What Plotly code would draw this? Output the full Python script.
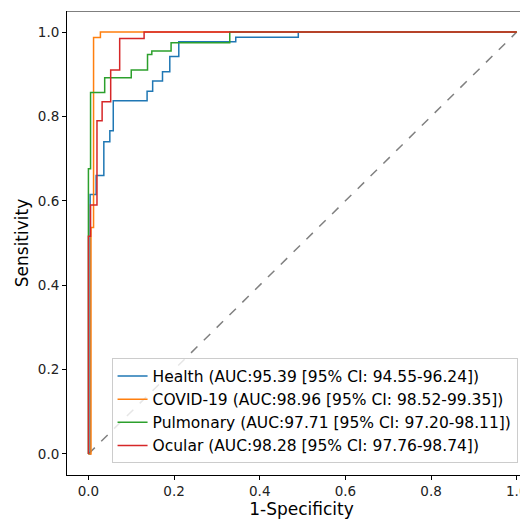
import plotly.graph_objects as go

# ROC step points (fpr, tpr)
health_fpr = [0, 0.004, 0.004, 0.018, 0.018, 0.036, 0.036, 0.05, 0.05, 0.058, 0.058, 0.137, 0.137, 0.15, 0.15, 0.173, 0.173, 0.19, 0.19, 0.211, 0.211, 0.344, 0.344, 0.49, 0.49, 1.0]
health_tpr = [0, 0, 0.615, 0.615, 0.66, 0.66, 0.74, 0.74, 0.766, 0.766, 0.837, 0.837, 0.86, 0.86, 0.884, 0.884, 0.906, 0.906, 0.942, 0.942, 0.977, 0.977, 0.988, 0.988, 1.0, 1.0]
covid_fpr = [0, 0.006, 0.006, 0.012, 0.012, 0.028, 0.028, 1.0]
covid_tpr = [0, 0, 0.537, 0.537, 0.987, 0.987, 1.0, 1.0]
pulm_fpr = [0, 0, 0.005, 0.005, 0.038, 0.038, 0.1, 0.1, 0.138, 0.138, 0.148, 0.148, 0.193, 0.193, 0.33, 0.33, 1.0]
pulm_tpr = [0, 0.676, 0.676, 0.857, 0.857, 0.892, 0.892, 0.91, 0.91, 0.947, 0.947, 0.955, 0.955, 0.975, 0.975, 1.0, 1.0]
ocul_fpr = [0, 0, 0.005, 0.005, 0.02, 0.02, 0.032, 0.032, 0.052, 0.052, 0.073, 0.073, 0.13, 0.13, 1.0]
ocul_tpr = [0, 0.516, 0.516, 0.59, 0.59, 0.79, 0.79, 0.835, 0.835, 0.91, 0.91, 0.985, 0.985, 1.0, 1.0]

names = ["Health (AUC:95.39 [95% CI: 94.55-96.24])",
         "COVID-19 (AUC:98.96 [95% CI: 98.52-99.35])",
         "Pulmonary (AUC:97.71 [95% CI: 97.20-98.11])",
         "Ocular (AUC:98.28 [95% CI: 97.76-98.74])"]
colors = ["#1f77b4", "#ff7f0e", "#2ca02c", "#d62728"]
curves = [(health_fpr, health_tpr), (covid_fpr, covid_tpr), (pulm_fpr, pulm_tpr), (ocul_fpr, ocul_tpr)]

fig = go.Figure()
fig.add_trace(go.Scatter(x=[0, 1], y=[0, 1], mode="lines", showlegend=False,
                         line=dict(color="gray", dash="dash", width=1.5)))
for (fx, ty), n, c in zip(curves, names, colors):
    fig.add_trace(go.Scatter(x=fx, y=ty, mode="lines", name=n, line=dict(color=c, width=1.5)))

# page has ~8px body margin, so the figure is shifted; right frame falls off the page
xmax = 1.045
fig.add_shape(type="line", xref="x", yref="y", x0=-0.05, x1=xmax, y0=1.05, y1=1.05,
              line=dict(color="black", width=1))

axis = dict(showgrid=False, zeroline=False, showline=True, linecolor="black", linewidth=1,
            ticks="outside", ticklen=4, tickcolor="black", tickfont=dict(size=13.5, color="#222"))
fig.update_layout(
    width=528, height=513, plot_bgcolor="white", paper_bgcolor="white",
    margin=dict(l=59, r=0, t=3, b=46),
    font=dict(family="DejaVu Sans", color="black"),
    xaxis=dict(axis, range=[-0.05, xmax], tickvals=[0, 0.2, 0.4, 0.6, 0.8, 1.0], tickformat=".1f",
               title=dict(text="1-Specificity", font=dict(size=17), standoff=2)),
    yaxis=dict(axis, range=[-0.05, 1.05], tickvals=[0, 0.2, 0.4, 0.6, 0.8, 1.0], tickformat=".1f",
               title=dict(text="Sensitivity", font=dict(size=17), standoff=4)),
    legend=dict(x=0.095, y=0.025, xanchor="left", yanchor="bottom", bgcolor="rgba(255,255,255,0.8)",
                bordercolor="#ccc", borderwidth=1, font=dict(size=15.5), tracegroupgap=0),
)
fig.write_html("out.html")
